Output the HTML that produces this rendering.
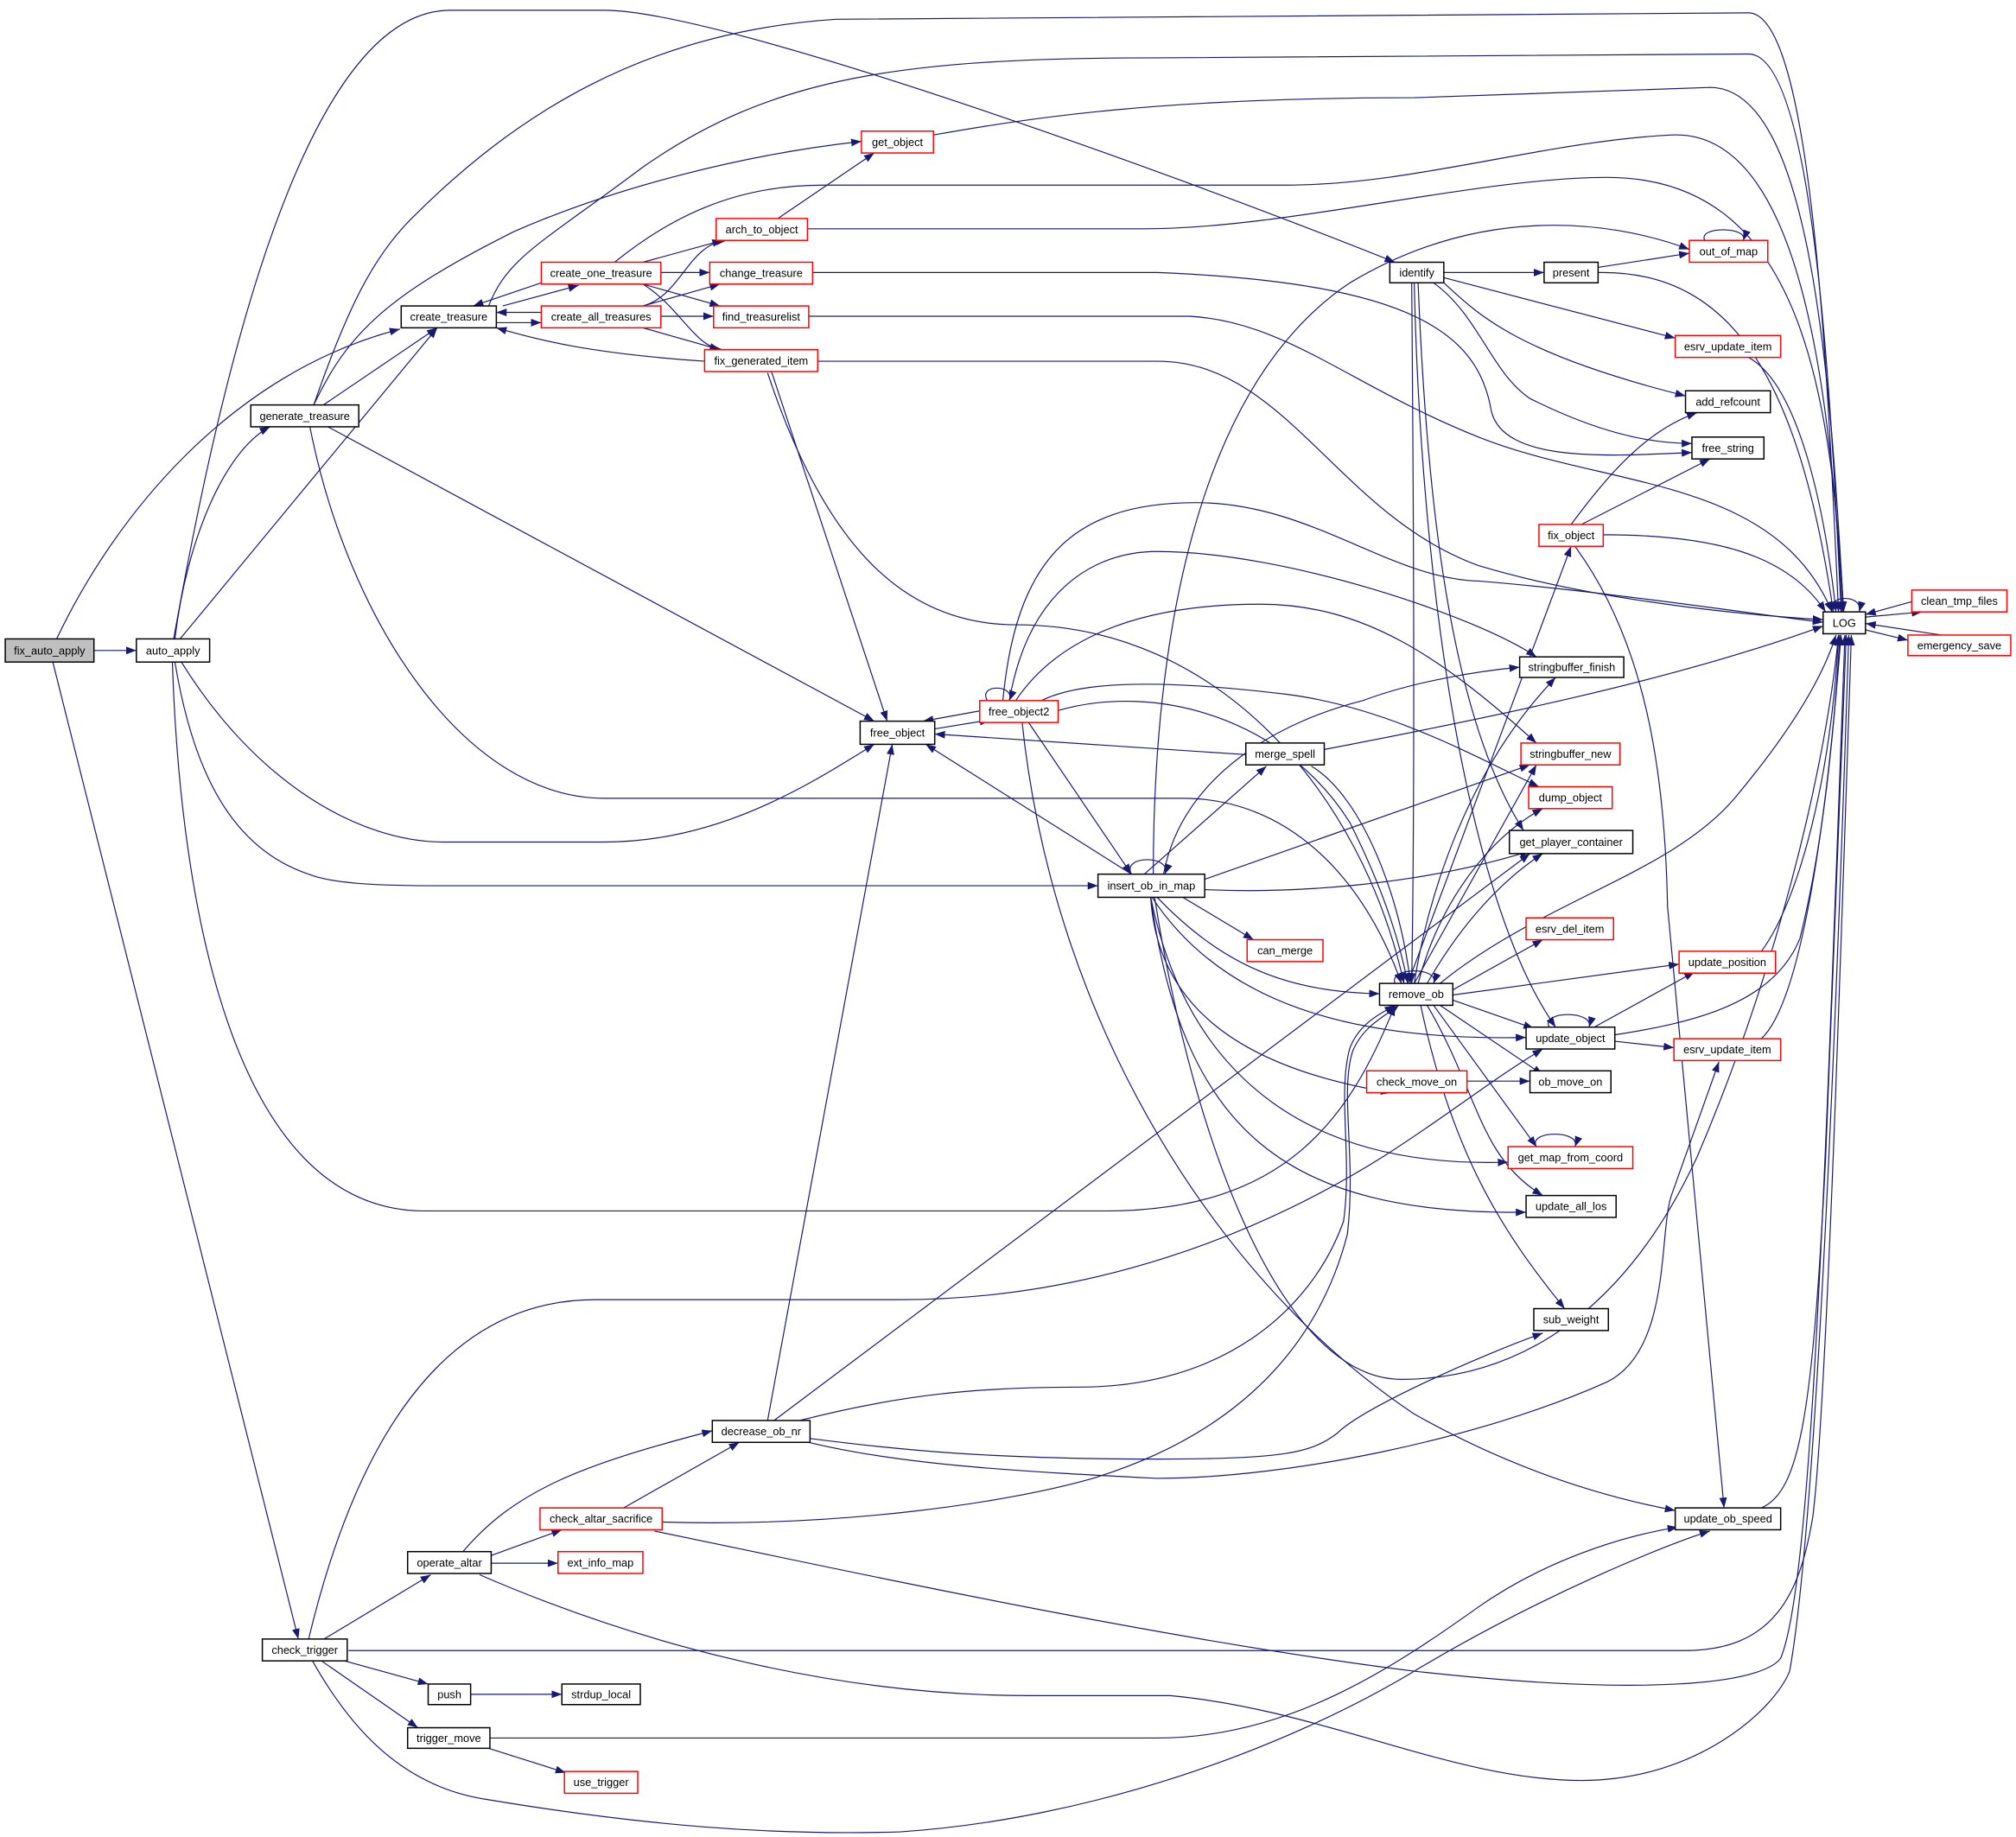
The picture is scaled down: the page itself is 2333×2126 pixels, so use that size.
<!DOCTYPE html>
<html><head><meta charset="utf-8"><style>
html,body{margin:0;padding:0;background:#fff}
svg{display:block}
text{font-family:"Liberation Sans",sans-serif;font-size:8.6px;fill:#000}
.e{fill:none;stroke:#191970;stroke-width:0.8}
.b{fill:#fff;stroke:#000;stroke-width:1}
.r{fill:#fff;stroke:#ff0000;stroke-width:1}
</style></head><body>
<svg width="2333" height="2126" viewBox="0 0 1568 1429" xmlns="http://www.w3.org/2000/svg">
<defs><marker id="a" markerUnits="userSpaceOnUse" markerWidth="8" markerHeight="6" refX="8" refY="3" orient="auto"><path d="M0,0 L8,3 L0,6 z" fill="#191970"/></marker></defs>
<g class="e" marker-end="url(#a)">
<path d="M73,506 L106,506"/>
<path d="M44,497 C90,400 180,290 311,256"/>
<path d="M41,515 L232,1275"/>
<path d="M136,497 C145,420 175,350 210,332"/>
<path d="M140,497 L340,255"/>
<path d="M135,497 C165,330 230,8 350,8 L470,8 C560,8 900,130 1085,204"/>
<path d="M141,515 C200,610 280,655 345,655 L470,655 C560,655 630,610 680,579"/>
<path d="M136,515 C150,600 180,660 240,680 C260,688 300,689 340,689 L854,689"/>
<path d="M134,515 C140,700 180,942 330,942 L860,942 C1000,942 1050,870 1085,782"/>
<path d="M250,316 L340,255"/>
<path d="M244,315 C270,260 300,230 400,180 C480,145 580,120 670,110"/>
<path d="M244,315 C270,240 290,200 320,170 C400,90 500,25 650,15 L1360,10 C1410,10 1422,300 1430,476"/>
<path d="M255,332 L680,561"/>
<path d="M241,332 C270,480 360,621 470,621 L920,621 C1000,621 1060,680 1090,765"/>
<path d="M391,238 L450,222"/>
<path d="M421,220 L368,238"/>
<path d="M421,243 L386,243"/>
<path d="M386,251 L421,251"/>
<path d="M380,238 C395,200 420,190 500,130 C600,60 700,45 900,45 L1360,42 C1410,42 1424,300 1432,476"/>
<path d="M478,204 C520,170 570,144 640,144 L1000,144 C1100,144 1200,110 1300,105 C1400,100 1424,300 1433,476"/>
<path d="M500,204 L562,187"/>
<path d="M514,212 L552,212"/>
<path d="M500,221 L560,238"/>
<path d="M500,221 C530,240 540,270 562,272"/>
<path d="M500,238 C530,230 535,190 565,187"/>
<path d="M500,238 L560,221"/>
<path d="M514,246 L555,246"/>
<path d="M500,255 L560,272"/>
<path d="M548,281 C460,275 420,265 386,255"/>
<path d="M605,170 L680,119"/>
<path d="M628,178 L890,178 C1000,178 1150,138 1250,138 C1400,138 1424,300 1434,476"/>
<path d="M726,105 C800,92 900,76 1100,76 L1330,68 C1410,68 1424,300 1434,476"/>
<path d="M632,212 L900,212 C1100,220 1150,260 1160,320 C1170,360 1250,355 1316,352"/>
<path d="M629,246 L925,246 C1000,250 1050,300 1150,340 C1250,380 1380,370 1425,476"/>
<path d="M636,281 L900,281 C1000,281 1040,400 1150,440 C1250,470 1380,480 1418,482"/>
<path d="M600,289 L690,561"/>
<path d="M597,290 C640,420 700,486 790,486 C950,486 1060,620 1092,765"/>
<path d="M1123,212 L1201,212"/>
<path d="M1123,216 L1303,263"/>
<path d="M1123,220 C1150,245 1180,275 1311,308"/>
<path d="M1115,220 C1150,245 1160,290 1190,310 C1240,335 1280,345 1316,345"/>
<path d="M1103,220 C1110,400 1130,560 1185,646"/>
<path d="M1100,220 C1105,450 1140,700 1210,799"/>
<path d="M1098,220 C1100,450 1100,650 1098,765"/>
<path d="M1243,208 L1314,197"/>
<path d="M1243,212 C1350,210 1400,300 1426,476"/>
<path d="M1326,187 C1320,176 1360,176 1356,187"/>
<path d="M1360,278 C1400,300 1420,400 1428,476"/>
<path d="M1222,408 C1250,370 1280,335 1320,321"/>
<path d="M1230,408 L1330,357"/>
<path d="M1247,416 C1330,416 1390,430 1420,476"/>
<path d="M1225,425 C1280,500 1295,600 1297,705 L1341,1173"/>
<path d="M1425,476 C1420,462 1450,462 1446,476"/>
<path d="M1451,480 L1495,476"/>
<path d="M1487,468 L1451,478"/>
<path d="M1451,490 L1484,498"/>
<path d="M1510,494 L1451,485"/>
<path d="M727,567 L770,560"/>
<path d="M762,553 L718,561"/>
<path d="M768,545 C760,532 790,532 785,545"/>
<path d="M780,545 C790,440 830,391 930,391 C1020,391 1080,450 1150,452 C1250,460 1380,480 1418,484"/>
<path d="M785,545 C800,460 850,429 900,429 C1000,429 1150,480 1195,511"/>
<path d="M810,545 C840,530 900,528 1000,540 C1080,550 1150,590 1197,612"/>
<path d="M822,553 C900,530 1000,560 1050,640 C1080,700 1090,740 1095,765"/>
<path d="M800,562 L880,680"/>
<path d="M795,562 C820,800 950,1000 1100,1100 C1180,1145 1250,1165 1303,1175"/>
<path d="M790,545 C820,500 880,470 980,470 C1060,470 1120,510 1195,578"/>
<path d="M969,587 L727,571"/>
<path d="M1030,583 C1150,560 1300,530 1418,487"/>
<path d="M1020,596 C1060,620 1090,700 1097,765"/>
<path d="M890,680 L985,596"/>
<path d="M880,680 L720,579"/>
<path d="M880,680 C872,665 912,665 906,680"/>
<path d="M920,698 L975,731"/>
<path d="M897,680 C897,500 930,300 1050,220 C1150,160 1250,170 1314,194"/>
<path d="M905,680 C920,600 1000,560 1060,545 C1100,530 1150,522 1182,519"/>
<path d="M937,684 L1190,595"/>
<path d="M937,692 C1000,695 1100,690 1190,662"/>
<path d="M900,698 C950,750 1000,772 1073,773"/>
<path d="M896,698 C950,780 1050,810 1187,807"/>
<path d="M895,698 C900,780 960,830 1082,850"/>
<path d="M895,698 C920,820 1000,910 1173,904"/>
<path d="M895,698 C920,880 1000,945 1187,943"/>
<path d="M898,698 C930,900 1000,1073 1090,1073 C1150,1073 1250,1050 1320,900 C1380,760 1420,600 1430,494"/>
<path d="M1085,765 C1080,752 1120,752 1115,765"/>
<path d="M1095,765 L1222,425"/>
<path d="M1100,765 C1110,700 1140,600 1210,527"/>
<path d="M1100,765 L1195,595"/>
<path d="M1103,765 C1120,700 1160,650 1200,629"/>
<path d="M1110,765 C1130,730 1160,690 1200,664"/>
<path d="M1120,765 C1200,700 1300,680 1350,620 C1400,560 1420,520 1428,494"/>
<path d="M1130,770 L1200,731"/>
<path d="M1130,774 L1306,750"/>
<path d="M1130,778 L1193,800"/>
<path d="M1120,782 L1200,836"/>
<path d="M1115,782 L1195,892"/>
<path d="M1110,782 C1150,850 1150,900 1200,930"/>
<path d="M1105,782 C1130,900 1170,960 1217,1018"/>
<path d="M1141,841 L1190,841"/>
<path d="M1205,799 C1198,786 1240,786 1236,799"/>
<path d="M1240,799 L1318,756"/>
<path d="M1256,810 L1302,815"/>
<path d="M1256,805 C1320,795 1380,780 1400,730 C1420,650 1428,550 1431,494"/>
<path d="M1370,740 C1400,700 1425,600 1430,494"/>
<path d="M1370,808 C1400,780 1420,650 1432,494"/>
<path d="M1195,892 C1188,879 1230,879 1225,892"/>
<path d="M1370,1173 C1400,1160 1410,1100 1420,900 L1436,494"/>
<path d="M597,1105 L694,579"/>
<path d="M602,1105 L1190,664"/>
<path d="M622,1105 C700,1085 760,1079 840,1079 C950,1079 1020,1020 1045,950 C1052,900 1040,850 1050,815 C1058,795 1075,788 1085,782"/>
<path d="M630,1119 C700,1128 770,1135 900,1135 C1000,1135 1020,1130 1040,1115 C1060,1095 1150,1055 1200,1037"/>
<path d="M625,1121 C700,1140 800,1145 900,1150 C1000,1150 1150,1120 1250,1075 C1300,1050 1290,960 1300,930 L1337,826"/>
<path d="M485,1173 L575,1122"/>
<path d="M515,1184 C650,1188 780,1170 850,1150 C980,1110 1030,1030 1048,960 C1055,900 1042,850 1052,818 C1060,798 1078,790 1088,782"/>
<path d="M509,1191 C650,1220 900,1275 1100,1300 C1280,1320 1370,1310 1385,1290 C1410,1230 1420,900 1435,494"/>
<path d="M360,1207 C400,1160 450,1140 554,1113"/>
<path d="M382,1210 L437,1190"/>
<path d="M382,1216 L434,1216"/>
<path d="M373,1225 C500,1280 650,1319 800,1319 L910,1319 C1030,1330 1130,1385 1230,1385 C1320,1385 1380,1330 1392,1300 C1410,1200 1425,900 1438,494"/>
<path d="M252,1275 L335,1225"/>
<path d="M268,1292 L333,1310"/>
<path d="M250,1292 L325,1344"/>
<path d="M240,1275 C270,1150 330,1011 463,1011 L700,1011 C850,1011 980,960 1077,899 C1130,865 1160,840 1200,816"/>
<path d="M271,1284 L1310,1284 C1380,1284 1400,1240 1410,1180 C1420,1100 1430,800 1440,494"/>
<path d="M243,1292 C270,1340 310,1390 380,1400 C500,1420 600,1428 700,1425 C850,1415 1000,1360 1100,1300 C1200,1240 1300,1200 1330,1191"/>
<path d="M366,1318 L437,1318"/>
<path d="M380,1360 L440,1379"/>
<path d="M381,1352 L900,1352 C1000,1352 1080,1300 1150,1250 C1200,1215 1260,1195 1305,1188"/>
</g>
<g>
<rect x="4" y="497" width="69" height="18" fill="#bfbfbf" stroke="#000"/>
<rect class="b" x="106" y="497" width="57" height="18"/>
<rect class="b" x="312" y="238" width="74" height="17"/>
<rect class="b" x="195" y="315" width="84" height="17"/>
<rect class="r" x="421" y="204" width="93" height="17"/>
<rect class="r" x="421" y="238" width="93" height="17"/>
<rect class="r" x="670" y="102" width="56" height="17"/>
<rect class="r" x="557" y="170" width="71" height="17"/>
<rect class="r" x="552" y="204" width="80" height="17"/>
<rect class="r" x="555" y="238" width="74" height="17"/>
<rect class="r" x="548" y="272" width="88" height="17"/>
<rect class="b" x="669" y="561" width="58" height="18"/>
<rect class="r" x="762" y="545" width="61" height="17"/>
<rect class="b" x="1081" y="204" width="42" height="16"/>
<rect class="b" x="1201" y="204" width="42" height="16"/>
<rect class="r" x="1314" y="187" width="61" height="17"/>
<rect class="r" x="1303" y="261" width="82" height="17"/>
<rect class="b" x="1311" y="304" width="66" height="17"/>
<rect class="b" x="1316" y="340" width="56" height="17"/>
<rect class="r" x="1197" y="408" width="50" height="17"/>
<rect class="b" x="1418" y="476" width="33" height="17"/>
<rect class="r" x="1487" y="459" width="74" height="17"/>
<rect class="r" x="1484" y="494" width="80" height="16"/>
<rect class="b" x="1182" y="511" width="81" height="16"/>
<rect class="b" x="969" y="578" width="61" height="17"/>
<rect class="r" x="1183" y="578" width="77" height="17"/>
<rect class="r" x="1189" y="612" width="65" height="17"/>
<rect class="b" x="1174" y="646" width="96" height="18"/>
<rect class="b" x="854" y="680" width="83" height="18"/>
<rect class="r" x="1187" y="714" width="68" height="17"/>
<rect class="r" x="970" y="731" width="59" height="17"/>
<rect class="r" x="1306" y="740" width="75" height="17"/>
<rect class="b" x="1073" y="765" width="57" height="17"/>
<rect class="b" x="1187" y="799" width="69" height="17"/>
<rect class="r" x="1302" y="808" width="83" height="17"/>
<rect class="r" x="1063" y="833" width="78" height="17"/>
<rect class="b" x="1190" y="833" width="63" height="17"/>
<rect class="r" x="1173" y="892" width="97" height="17"/>
<rect class="b" x="1187" y="930" width="70" height="17"/>
<rect class="b" x="1193" y="1018" width="58" height="17"/>
<rect class="b" x="1303" y="1173" width="82" height="17"/>
<rect class="b" x="554" y="1105" width="76" height="17"/>
<rect class="r" x="420" y="1173" width="95" height="17"/>
<rect class="b" x="317" y="1207" width="65" height="17"/>
<rect class="r" x="434" y="1207" width="66" height="17"/>
<rect class="b" x="204" y="1275" width="66" height="17"/>
<rect class="b" x="333" y="1310" width="33" height="16"/>
<rect class="b" x="437" y="1310" width="61" height="16"/>
<rect class="b" x="317" y="1344" width="64" height="16"/>
<rect class="r" x="439" y="1378" width="57" height="17"/>
</g>
<g text-anchor="middle">
<text x="38.5" y="509">fix_auto_apply</text>
<text x="134.5" y="509">auto_apply</text>
<text x="349" y="249.5">create_treasure</text>
<text x="237" y="326.5">generate_treasure</text>
<text x="467.5" y="215.5">create_one_treasure</text>
<text x="467.5" y="249.5">create_all_treasures</text>
<text x="698" y="113.5">get_object</text>
<text x="592.5" y="181.5">arch_to_object</text>
<text x="592" y="215.5">change_treasure</text>
<text x="592" y="249.5">find_treasurelist</text>
<text x="592" y="283.5">fix_generated_item</text>
<text x="698" y="573">free_object</text>
<text x="792.5" y="556.5">free_object2</text>
<text x="1102" y="215">identify</text>
<text x="1222" y="215">present</text>
<text x="1344.5" y="198.5">out_of_map</text>
<text x="1344" y="272.5">esrv_update_item</text>
<text x="1344" y="315.5">add_refcount</text>
<text x="1344" y="351.5">free_string</text>
<text x="1222" y="419.5">fix_object</text>
<text x="1434.5" y="487.5">LOG</text>
<text x="1524" y="470.5">clean_tmp_files</text>
<text x="1524" y="505">emergency_save</text>
<text x="1222.5" y="522">stringbuffer_finish</text>
<text x="999.5" y="589.5">merge_spell</text>
<text x="1221.5" y="589.5">stringbuffer_new</text>
<text x="1221.5" y="623.5">dump_object</text>
<text x="1222" y="658">get_player_container</text>
<text x="895.5" y="692">insert_ob_in_map</text>
<text x="1221" y="725.5">esrv_del_item</text>
<text x="999.5" y="742.5">can_merge</text>
<text x="1343.5" y="751.5">update_position</text>
<text x="1101.5" y="776.5">remove_ob</text>
<text x="1221.5" y="810.5">update_object</text>
<text x="1343.5" y="819.5">esrv_update_item</text>
<text x="1102" y="844.5">check_move_on</text>
<text x="1221.5" y="844.5">ob_move_on</text>
<text x="1221.5" y="903.5">get_map_from_coord</text>
<text x="1222" y="941.5">update_all_los</text>
<text x="1222" y="1029.5">sub_weight</text>
<text x="1344" y="1184.5">update_ob_speed</text>
<text x="592" y="1116.5">decrease_ob_nr</text>
<text x="467.5" y="1184.5">check_altar_sacrifice</text>
<text x="349.5" y="1218.5">operate_altar</text>
<text x="467" y="1218.5">ext_info_map</text>
<text x="237" y="1286.5">check_trigger</text>
<text x="349.5" y="1321">push</text>
<text x="467.5" y="1321">strdup_local</text>
<text x="349" y="1355">trigger_move</text>
<text x="467.5" y="1389.5">use_trigger</text>
</g>
</svg>
</body></html>
